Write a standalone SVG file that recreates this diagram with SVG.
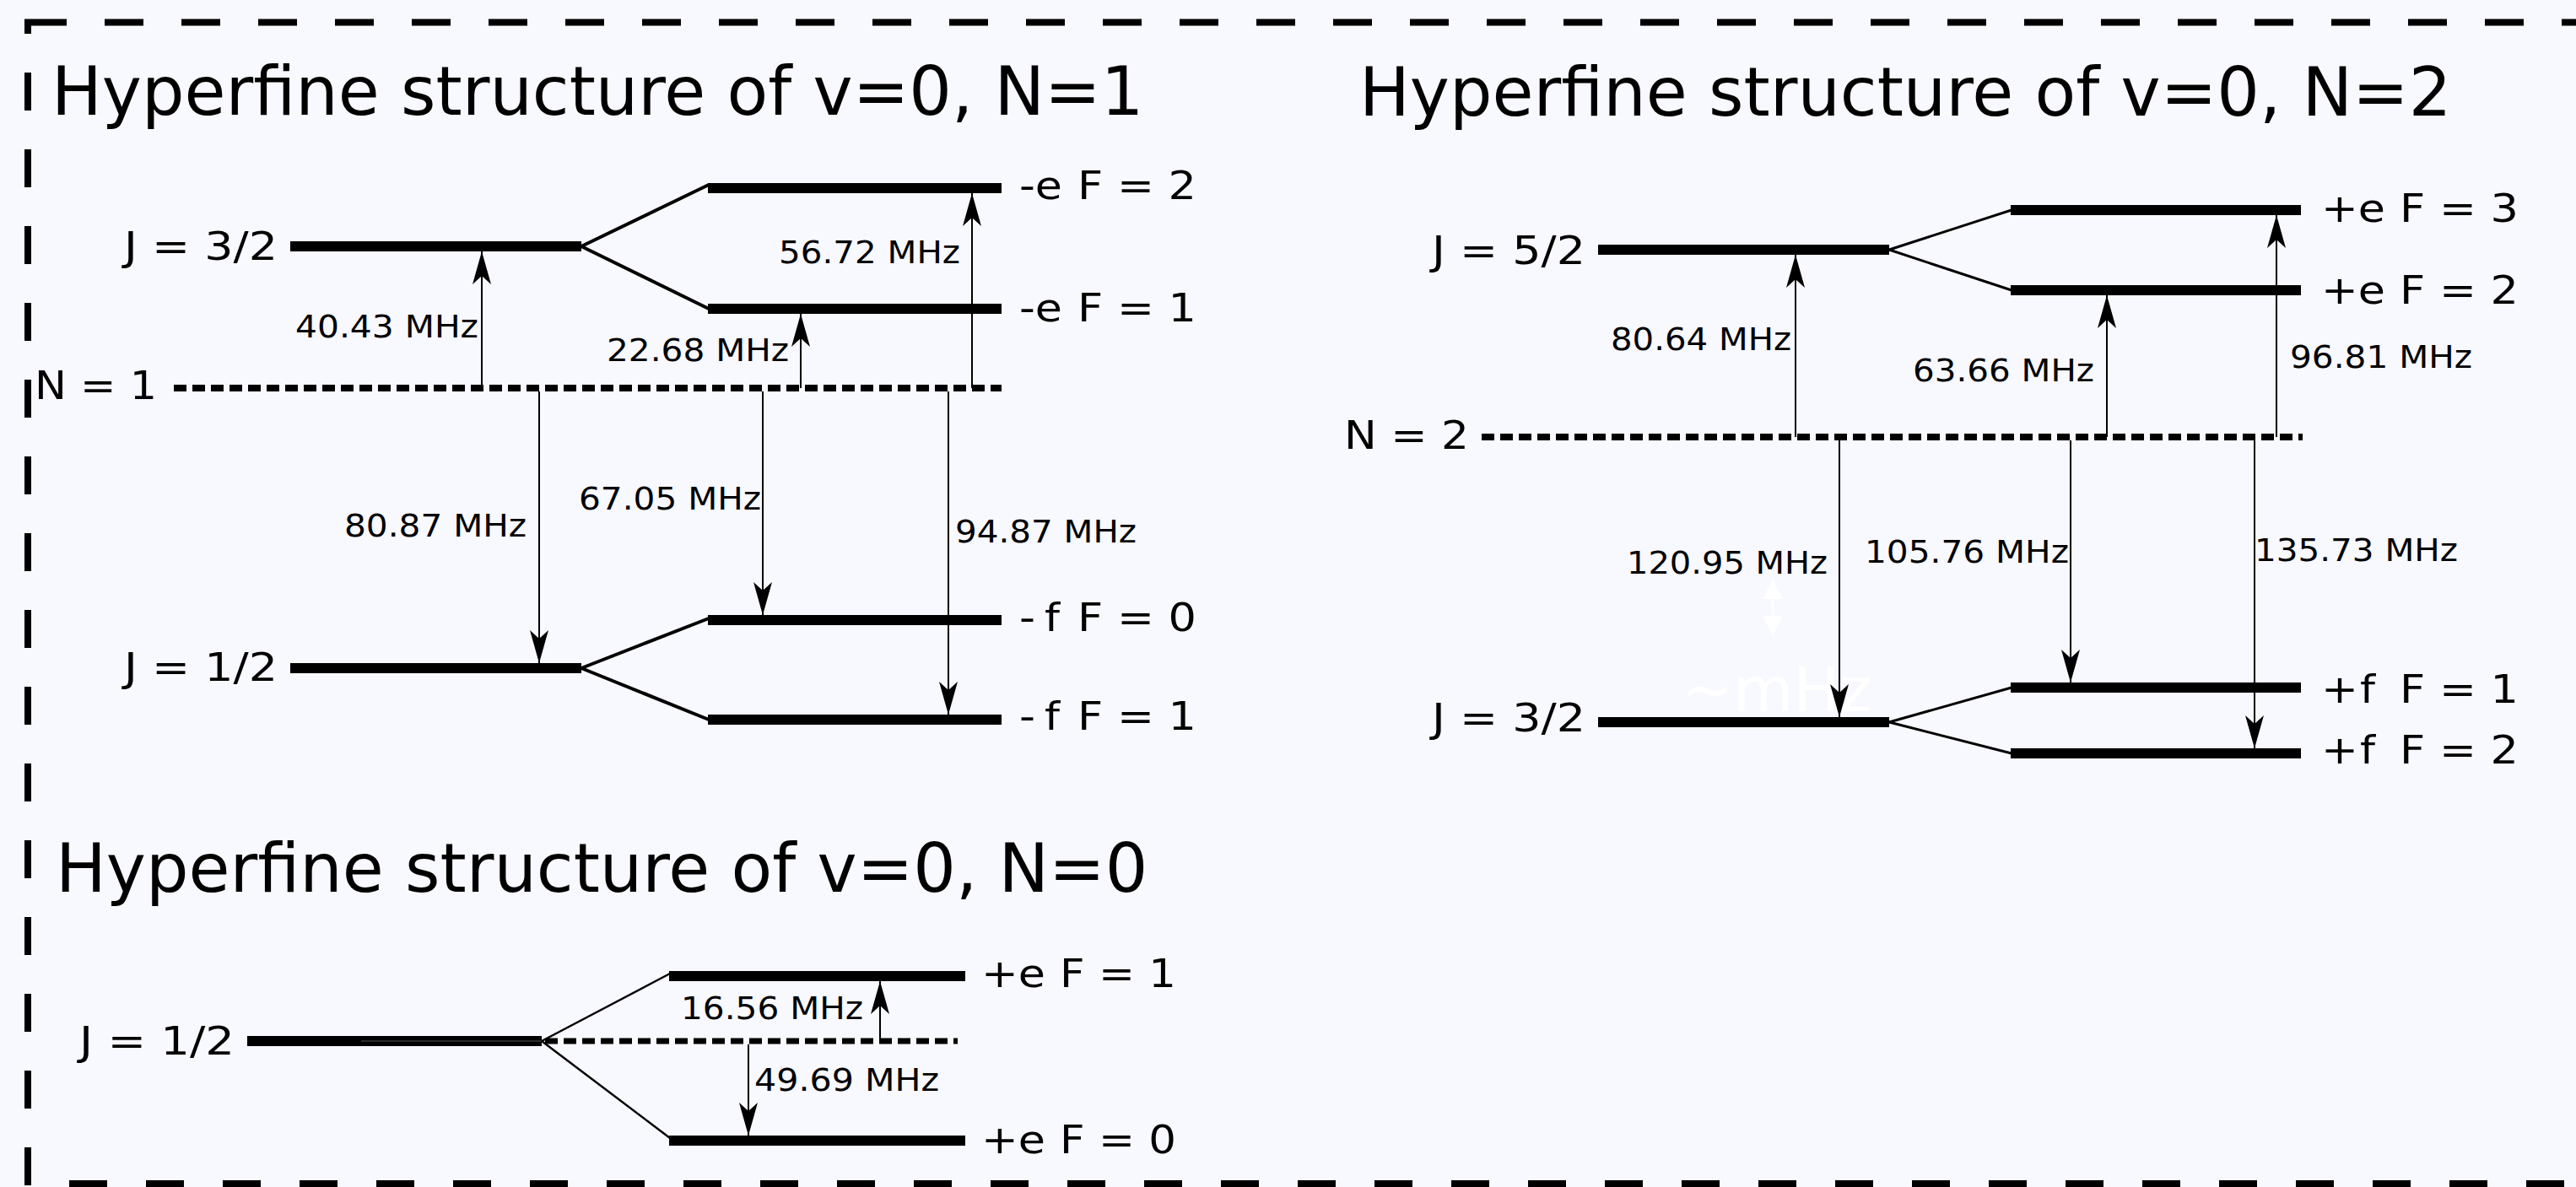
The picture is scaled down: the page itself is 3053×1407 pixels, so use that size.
<svg xmlns="http://www.w3.org/2000/svg" width="3053" height="1407" viewBox="0 0 3053 1407">
<defs>
<style>
text{font-family:"DejaVu Sans","Liberation Sans",sans-serif;fill:#000}
.title{font-size:79.6px}
.st{font-size:46px}
.mhz{font-size:37px}
.lvl{stroke:#000;stroke-width:12;fill:none}
.dot{stroke:#000;stroke-width:8;stroke-dasharray:15 7;fill:none}
.spl{stroke:#000;stroke-width:4;fill:none}
.spl2{stroke:#000;stroke-width:3;fill:none}
.arr{stroke:#000;stroke-width:2;fill:none;marker-end:url(#ah)}
.bd{stroke:#000;stroke-width:8;fill:none;stroke-dasharray:46 45}
</style>
<marker id="ah" markerUnits="userSpaceOnUse" markerWidth="50" markerHeight="30" viewBox="-45 -15 50 30" refX="0" refY="0" orient="auto" overflow="visible">
<path d="M0,0 L-39,-11 L-29,0 L-39,11 Z" fill="#000"/>
</marker>
<marker id="wh" markerUnits="userSpaceOnUse" markerWidth="30" markerHeight="30" viewBox="-25 -15 30 30" refX="0" refY="0" orient="auto-start-reverse" overflow="visible">
<path d="M0,0 L-23,-12 L-23,12 Z" fill="#fff"/>
</marker>
</defs>
<rect x="0" y="0" width="3053" height="1407" fill="#f8f8ff"/>

<g id="border">
<path d="M33,40 V26.5 H79" stroke="#000" stroke-width="8" fill="none"/>
<line class="bd" x1="124" y1="26.5" x2="3060" y2="26.5"/>
<line class="bd" x1="33" y1="86" x2="33" y2="1410" style="stroke-dasharray:45 46"/>
<line class="bd" x1="82" y1="1403" x2="3060" y2="1403" style="stroke-dasharray:45 46"/>
</g>

<!-- Panel N=1 -->
<g id="title-n1"><text class="title" x="61" y="136">Hyperfine structure of v=0, N=1</text></g>
<g id="n1-N"><text class="st" x="41" y="473" textLength="145" lengthAdjust="spacingAndGlyphs">N = 1</text>
<line class="dot" x1="206" y1="460" x2="1187" y2="460"/></g>
<g id="n1-J32"><text class="st" x="147" y="308" textLength="182" lengthAdjust="spacingAndGlyphs">J = 3/2</text>
<line class="lvl" x1="344" y1="292" x2="689" y2="292"/></g>
<g id="n1-F2"><line class="lvl" x1="839" y1="223" x2="1187" y2="223"/>
<text class="st" x="1208" y="236" textLength="51" lengthAdjust="spacingAndGlyphs">-e</text>
<text class="st" x="1277" y="236" textLength="141" lengthAdjust="spacingAndGlyphs">F = 2</text></g>
<g id="n1-F1e"><line class="lvl" x1="839" y1="366" x2="1187" y2="366"/>
<text class="st" x="1208" y="381" textLength="51" lengthAdjust="spacingAndGlyphs">-e</text>
<text class="st" x="1277" y="381" textLength="141" lengthAdjust="spacingAndGlyphs">F = 1</text></g>
<g id="n1-J12"><text class="st" x="147" y="807" textLength="182" lengthAdjust="spacingAndGlyphs">J = 1/2</text>
<line class="lvl" x1="344" y1="792" x2="689" y2="792"/></g>
<g id="n1-F0f"><line class="lvl" x1="839" y1="735" x2="1187" y2="735"/>
<text class="st" x="1208" y="748" textLength="19" lengthAdjust="spacingAndGlyphs">-</text>
<text class="st" x="1238" y="748" textLength="18" lengthAdjust="spacingAndGlyphs">f</text>
<text class="st" x="1277" y="748" textLength="141" lengthAdjust="spacingAndGlyphs">F = 0</text></g>
<g id="n1-F1f"><line class="lvl" x1="839" y1="853" x2="1187" y2="853"/>
<text class="st" x="1208" y="865" textLength="19" lengthAdjust="spacingAndGlyphs">-</text>
<text class="st" x="1238" y="865" textLength="18" lengthAdjust="spacingAndGlyphs">f</text>
<text class="st" x="1277" y="865" textLength="141" lengthAdjust="spacingAndGlyphs">F = 1</text></g>

<!-- Panel N=2 -->
<g id="title-n2"><text class="title" x="1611" y="137">Hyperfine structure of v=0, N=2</text></g>
<g id="n2-N"><text class="st" x="1593" y="532" textLength="148" lengthAdjust="spacingAndGlyphs">N = 2</text>
<line class="dot" x1="1756" y1="518" x2="2729" y2="518"/></g>
<g id="n2-J52"><text class="st" x="1697" y="313" textLength="182" lengthAdjust="spacingAndGlyphs">J = 5/2</text>
<line class="lvl" x1="1894" y1="296" x2="2239" y2="296"/></g>
<g id="n2-F3"><line class="lvl" x1="2383" y1="249" x2="2727" y2="249"/>
<text class="st" x="2751" y="263" textLength="76" lengthAdjust="spacingAndGlyphs">+e</text>
<text class="st" x="2844" y="263" textLength="141" lengthAdjust="spacingAndGlyphs">F = 3</text></g>
<g id="n2-F2e"><line class="lvl" x1="2383" y1="344" x2="2727" y2="344"/>
<text class="st" x="2751" y="360" textLength="76" lengthAdjust="spacingAndGlyphs">+e</text>
<text class="st" x="2844" y="360" textLength="141" lengthAdjust="spacingAndGlyphs">F = 2</text></g>
<g id="n2-J32"><text class="st" x="1697" y="867" textLength="182" lengthAdjust="spacingAndGlyphs">J = 3/2</text>
<line class="lvl" x1="1894" y1="856" x2="2239" y2="856"/></g>
<g id="n2-F1f"><line class="lvl" x1="2383" y1="815" x2="2727" y2="815"/>
<text class="st" x="2751" y="833" textLength="44" lengthAdjust="spacingAndGlyphs">+</text>
<text class="st" x="2797" y="833" textLength="18" lengthAdjust="spacingAndGlyphs">f</text>
<text class="st" x="2844" y="833" textLength="141" lengthAdjust="spacingAndGlyphs">F = 1</text></g>
<g id="n2-F2f"><line class="lvl" x1="2383" y1="893" x2="2727" y2="893"/>
<text class="st" x="2751" y="905" textLength="44" lengthAdjust="spacingAndGlyphs">+</text>
<text class="st" x="2797" y="905" textLength="18" lengthAdjust="spacingAndGlyphs">f</text>
<text class="st" x="2844" y="905" textLength="141" lengthAdjust="spacingAndGlyphs">F = 2</text></g>
<g id="n2-hidden">
<text x="1993" y="843" font-size="73" style="fill:#fff">~mHz</text>
<line x1="2101" y1="687" x2="2101" y2="753" stroke="#fff" stroke-width="3" marker-start="url(#wh)" marker-end="url(#wh)"/>
</g>

<!-- Panel N=0 -->
<g id="title-n0"><text class="title" x="66" y="1057">Hyperfine structure of v=0, N=0</text></g>
<g id="n0-J12"><text class="st" x="94" y="1250" textLength="184" lengthAdjust="spacingAndGlyphs">J = 1/2</text>
<line class="lvl" x1="293" y1="1234" x2="642" y2="1234"/>
<line x1="428" y1="1234" x2="642" y2="1234" stroke="#3a3a3a" stroke-width="1.5"/>
<line class="dot" x1="646" y1="1234" x2="1135" y2="1234" style="stroke-width:7"/></g>
<g id="n0-F1"><line class="lvl" x1="793" y1="1157" x2="1144" y2="1157"/>
<text class="st" x="1163" y="1170" textLength="76" lengthAdjust="spacingAndGlyphs">+e</text>
<text class="st" x="1256" y="1170" textLength="138" lengthAdjust="spacingAndGlyphs">F = 1</text></g>
<g id="n0-F0"><line class="lvl" x1="793" y1="1352" x2="1144" y2="1352"/>
<text class="st" x="1163" y="1367" textLength="76" lengthAdjust="spacingAndGlyphs">+e</text>
<text class="st" x="1256" y="1367" textLength="138" lengthAdjust="spacingAndGlyphs">F = 0</text></g>

<g id="connectors">
<!-- splits -->
<line class="spl" x1="689" y1="292" x2="840" y2="219"/>
<line class="spl" x1="689" y1="292" x2="840" y2="366"/>
<line class="spl" x1="689" y1="792" x2="840" y2="733"/>
<line class="spl" x1="689" y1="792" x2="840" y2="853"/>
<line class="spl2" x1="2239" y1="296" x2="2384" y2="249"/>
<line class="spl2" x1="2239" y1="296" x2="2384" y2="344"/>
<line class="spl2" x1="2239" y1="856" x2="2384" y2="815"/>
<line class="spl2" x1="2239" y1="856" x2="2384" y2="893"/>
<line class="spl2" x1="642" y1="1234" x2="794" y2="1154" style="stroke-width:2.5"/>
<line class="spl2" x1="642" y1="1234" x2="794" y2="1349" style="stroke-width:2.5"/>
<!-- N=1 transitions -->
<line class="arr" x1="571" y1="460" x2="571" y2="298"/>
<line class="arr" x1="949" y1="460" x2="949" y2="372"/>
<line class="arr" x1="1152" y1="460" x2="1152" y2="229"/>
<line class="arr" x1="639" y1="464" x2="639" y2="786"/>
<line class="arr" x1="904" y1="464" x2="904" y2="729"/>
<line class="arr" x1="1124" y1="464" x2="1124" y2="847"/>
<!-- N=2 transitions -->
<line class="arr" x1="2128" y1="518" x2="2128" y2="302"/>
<line class="arr" x1="2497" y1="518" x2="2497" y2="350"/>
<line class="arr" x1="2698" y1="518" x2="2698" y2="255"/>
<line class="arr" x1="2180" y1="522" x2="2180" y2="850"/>
<line class="arr" x1="2454" y1="522" x2="2454" y2="809"/>
<line class="arr" x1="2672" y1="522" x2="2672" y2="887"/>
<!-- N=0 transitions -->
<line class="arr" x1="1043" y1="1234" x2="1043" y2="1163"/>
<line class="arr" x1="887" y1="1238" x2="887" y2="1346"/>
</g>

<g id="freq-labels">
<text class="mhz" x="350" y="400" textLength="217" lengthAdjust="spacingAndGlyphs">40.43 MHz</text>
<text class="mhz" x="719" y="428" textLength="216" lengthAdjust="spacingAndGlyphs">22.68 MHz</text>
<text class="mhz" x="923" y="312" textLength="215" lengthAdjust="spacingAndGlyphs">56.72 MHz</text>
<text class="mhz" x="408" y="636" textLength="216" lengthAdjust="spacingAndGlyphs">80.87 MHz</text>
<text class="mhz" x="686" y="604" textLength="216" lengthAdjust="spacingAndGlyphs">67.05 MHz</text>
<text class="mhz" x="1132" y="643" textLength="215" lengthAdjust="spacingAndGlyphs">94.87 MHz</text>
<text class="mhz" x="1909" y="415" textLength="214" lengthAdjust="spacingAndGlyphs">80.64 MHz</text>
<text class="mhz" x="2267" y="452" textLength="215" lengthAdjust="spacingAndGlyphs">63.66 MHz</text>
<text class="mhz" x="2714" y="436" textLength="216" lengthAdjust="spacingAndGlyphs">96.81 MHz</text>
<text class="mhz" x="1928" y="680" textLength="238" lengthAdjust="spacingAndGlyphs">120.95 MHz</text>
<text class="mhz" x="2210" y="667" textLength="242" lengthAdjust="spacingAndGlyphs">105.76 MHz</text>
<text class="mhz" x="2672" y="665" textLength="241" lengthAdjust="spacingAndGlyphs">135.73 MHz</text>
<text class="mhz" x="807" y="1208" textLength="216" lengthAdjust="spacingAndGlyphs">16.56 MHz</text>
<text class="mhz" x="894" y="1293" textLength="219" lengthAdjust="spacingAndGlyphs">49.69 MHz</text>
</g>
</svg>
